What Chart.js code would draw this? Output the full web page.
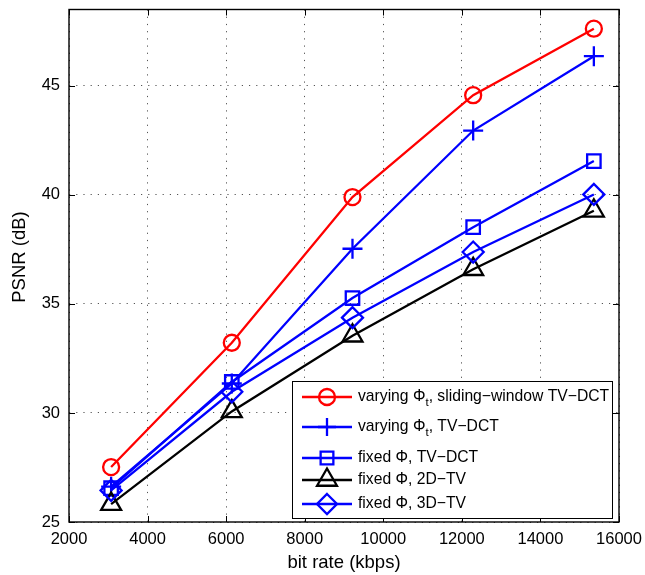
<!DOCTYPE html>
<html>
<head>
<meta charset="utf-8">
<script src="https://cdn.jsdelivr.net/npm/chart.js@4/dist/chart.umd.min.js"></script>
<style>
  body { margin: 0; background: #fff; }
  canvas { display: block; }
</style>
</head>
<body>
<canvas id="psnrChart" width="645" height="575"></canvas>
<script>
// bit rate (kbps) and PSNR (dB)
const bitRates = [3072, 6144, 9216, 12288, 15360];
const psnrSlidingTvDct = [27.52, 33.22, 39.9, 44.57, 47.62];
const psnrVaryingTvDct = [26.62, 31.35, 37.53, 42.95, 46.36];
const psnrFixedTvDct = [26.55, 31.42, 35.27, 38.52, 41.55];
const psnrFixed2dTv = [25.82, 30.07, 33.54, 36.59, 39.27];
const psnrFixed3dTv = [26.45, 30.97, 34.37, 37.38, 40.02];

const xTicks = [2000, 4000, 6000, 8000, 10000, 12000, 14000, 16000];
const yTicks = [25, 30, 35, 40, 45];

const FONT = 'Liberation Sans, Arial, Helvetica, sans-serif';
const LW = 2.3;

function toPoints(ys) {
    return bitRates.map((x, i) => ({ x: x, y: ys[i] }));
}

function series(label, ys, color, style, radius, order) {
    return {
        label: label,
        data: toPoints(ys),
        borderColor: color,
        borderWidth: LW,
        pointStyle: style,
        pointRadius: radius,
        pointHoverRadius: radius,
        pointBorderWidth: LW,
        pointBorderColor: color,
        pointBackgroundColor: 'rgba(0,0,0,0)',
        tension: 0,
        fill: false,
        order: order
    };
}

// marker drawing for the legend box
function drawMarker(ctx, style, x, y, r) {
    ctx.beginPath();
    if (style === 'circle') {
        ctx.arc(x, y, r, 0, Math.PI * 2);
    } else if (style === 'cross') {
        ctx.moveTo(x - r, y); ctx.lineTo(x + r, y);
        ctx.moveTo(x, y - r); ctx.lineTo(x, y + r);
    } else if (style === 'rect') {
        const s = r * Math.SQRT1_2;
        ctx.rect(x - s, y - s, 2 * s, 2 * s);
    } else if (style === 'triangle') {
        ctx.moveTo(x, y - r);
        ctx.lineTo(x + r * 0.866, y + r / 2);
        ctx.lineTo(x - r * 0.866, y + r / 2);
        ctx.closePath();
    } else if (style === 'rectRot') {
        ctx.moveTo(x, y - r); ctx.lineTo(x + r, y);
        ctx.lineTo(x, y + r); ctx.lineTo(x - r, y);
        ctx.closePath();
    }
    ctx.stroke();
}

const legendRows = [
    { pre: 'varying \u03A6', sub: 't', post: ', sliding\u2212window TV\u2212DCT', color: '#ff0000', style: 'circle', r: 8, y: 397 },
    { pre: 'varying \u03A6', sub: 't', post: ', TV\u2212DCT', color: '#0000ff', style: 'cross', r: 9, y: 427 },
    { pre: 'fixed \u03A6, TV\u2212DCT', sub: '', post: '', color: '#0000ff', style: 'rect', r: 9, y: 458 },
    { pre: 'fixed \u03A6, 2D\u2212TV', sub: '', post: '', color: '#000000', style: 'triangle', r: 11.5, y: 480 },
    { pre: 'fixed \u03A6, 3D\u2212TV', sub: '', post: '', color: '#0000ff', style: 'rectRot', r: 10, y: 504 }
];

const matlabFrame = {
    id: 'matlabFrame',
    afterDraw(chart) {
        const ctx = chart.ctx;
        const a = chart.chartArea;
        const xs = chart.scales.x, ys = chart.scales.y;
        ctx.save();
        ctx.strokeStyle = '#000';
        ctx.lineWidth = 1;
        const tl = 6;
        ctx.beginPath();
        xTicks.forEach(v => {
            const px = Math.round(xs.getPixelForValue(v)) + 0.5;
            ctx.moveTo(px, a.bottom); ctx.lineTo(px, a.bottom - tl);
            ctx.moveTo(px, a.top); ctx.lineTo(px, a.top + tl);
        });
        yTicks.forEach(v => {
            const py = Math.round(ys.getPixelForValue(v)) + 0.5;
            ctx.moveTo(a.left, py); ctx.lineTo(a.left + tl, py);
            ctx.moveTo(a.right, py); ctx.lineTo(a.right - tl, py);
        });
        ctx.stroke();
        ctx.lineWidth = 1.4;
        ctx.strokeRect(a.left, a.top, a.right - a.left, a.bottom - a.top);

        // y axis title (sits a little above the axis centre in the original)
        ctx.save();
        ctx.translate(19.5, 257);
        ctx.rotate(-Math.PI / 2);
        ctx.fillStyle = '#000';
        ctx.font = '18.5px ' + FONT;
        ctx.textAlign = 'center';
        ctx.textBaseline = 'middle';
        ctx.fillText('PSNR (dB)', 0, 0);
        ctx.restore();

        // legend box
        const lx = 292, ly = 381, lw = 320, lh = 137;
        ctx.fillStyle = '#fff';
        ctx.fillRect(lx, ly, lw, lh);
        ctx.lineWidth = 1;
        ctx.strokeStyle = '#000';
        ctx.strokeRect(lx + 0.5, ly + 0.5, lw, lh);

        legendRows.forEach(row => {
            ctx.strokeStyle = row.color;
            ctx.lineWidth = LW;
            ctx.beginPath();
            ctx.moveTo(302, row.y); ctx.lineTo(352, row.y);
            ctx.stroke();
            drawMarker(ctx, row.style, 327, row.y, row.r);

            ctx.fillStyle = '#000';
            ctx.textBaseline = 'middle';
            ctx.textAlign = 'left';
            ctx.font = '15.7px ' + FONT;
            let tx = 358;
            ctx.fillText(row.pre, tx, row.y);
            tx += ctx.measureText(row.pre).width;
            if (row.sub) {
                ctx.font = '11.5px ' + FONT;
                ctx.fillText(row.sub, tx, row.y + 6);
                tx += ctx.measureText(row.sub).width;
                ctx.font = '15.7px ' + FONT;
            }
            if (row.post) ctx.fillText(row.post, tx, row.y);
        });
        ctx.restore();
    }
};

const ctx = document.getElementById('psnrChart').getContext('2d');
new Chart(ctx, {
    type: 'line',
    data: {
        datasets: [
            series('varying \u03A6t, sliding-window TV-DCT', psnrSlidingTvDct, '#ff0000', 'circle', 8, 5),
            series('varying \u03A6t, TV-DCT', psnrVaryingTvDct, '#0000ff', 'cross', 10, 4),
            series('fixed \u03A6, TV-DCT', psnrFixedTvDct, '#0000ff', 'rect', 9.5, 3),
            series('fixed \u03A6, 2D-TV', psnrFixed2dTv, '#000000', 'triangle', 11.5, 2),
            series('fixed \u03A6, 3D-TV', psnrFixed3dTv, '#0000ff', 'rectRot', 10.5, 1)
        ]
    },
    options: {
        responsive: false,
        animation: false,
        clip: false,
        layout: { autoPadding: false, padding: { top: 9.5, right: 26, left: 0, bottom: 0 } },
        plugins: {
            legend: { display: false },
            tooltip: { enabled: false }
        },
        scales: {
            x: {
                type: 'linear',
                min: 2000,
                max: 16000,
                afterBuildTicks: s => { s.ticks = xTicks.map(v => ({ value: v })); },
                afterFit: s => {
                    s.height = 53;
                    s.paddingLeft = 0; s.paddingRight = 0;
                    s.paddingTop = 0; s.paddingBottom = 0;
                },
                ticks: {
                    autoSkip: false,
                    maxRotation: 0,
                    padding: 8,
                    color: '#000',
                    font: { family: FONT, size: 16.5 },
                    callback: v => String(v)
                },
                grid: { color: '#555', lineWidth: 1, drawTicks: false },
                border: { display: false, dash: [1.2, 6] },
                title: {
                    display: true,
                    text: 'bit rate (kbps)',
                    color: '#000',
                    font: { family: FONT, size: 18.5 },
                    padding: { top: 0, bottom: 1 }
                }
            },
            y: {
                type: 'linear',
                min: 25,
                max: 48.5,
                afterBuildTicks: s => { s.ticks = yTicks.map(v => ({ value: v })); },
                afterFit: s => {
                    s.width = 69;
                    s.paddingLeft = 0; s.paddingRight = 0;
                    s.paddingTop = 0; s.paddingBottom = 0;
                },
                ticks: {
                    autoSkip: false,
                    padding: 9,
                    color: '#000',
                    font: { family: FONT, size: 16.5 },
                    callback: v => String(v)
                },
                grid: { color: '#555', lineWidth: 1, drawTicks: false },
                border: { display: false, dash: [1.2, 6] },
                title: { display: false }
            }
        }
    },
    plugins: [matlabFrame]
});
</script>
</body>
</html>
